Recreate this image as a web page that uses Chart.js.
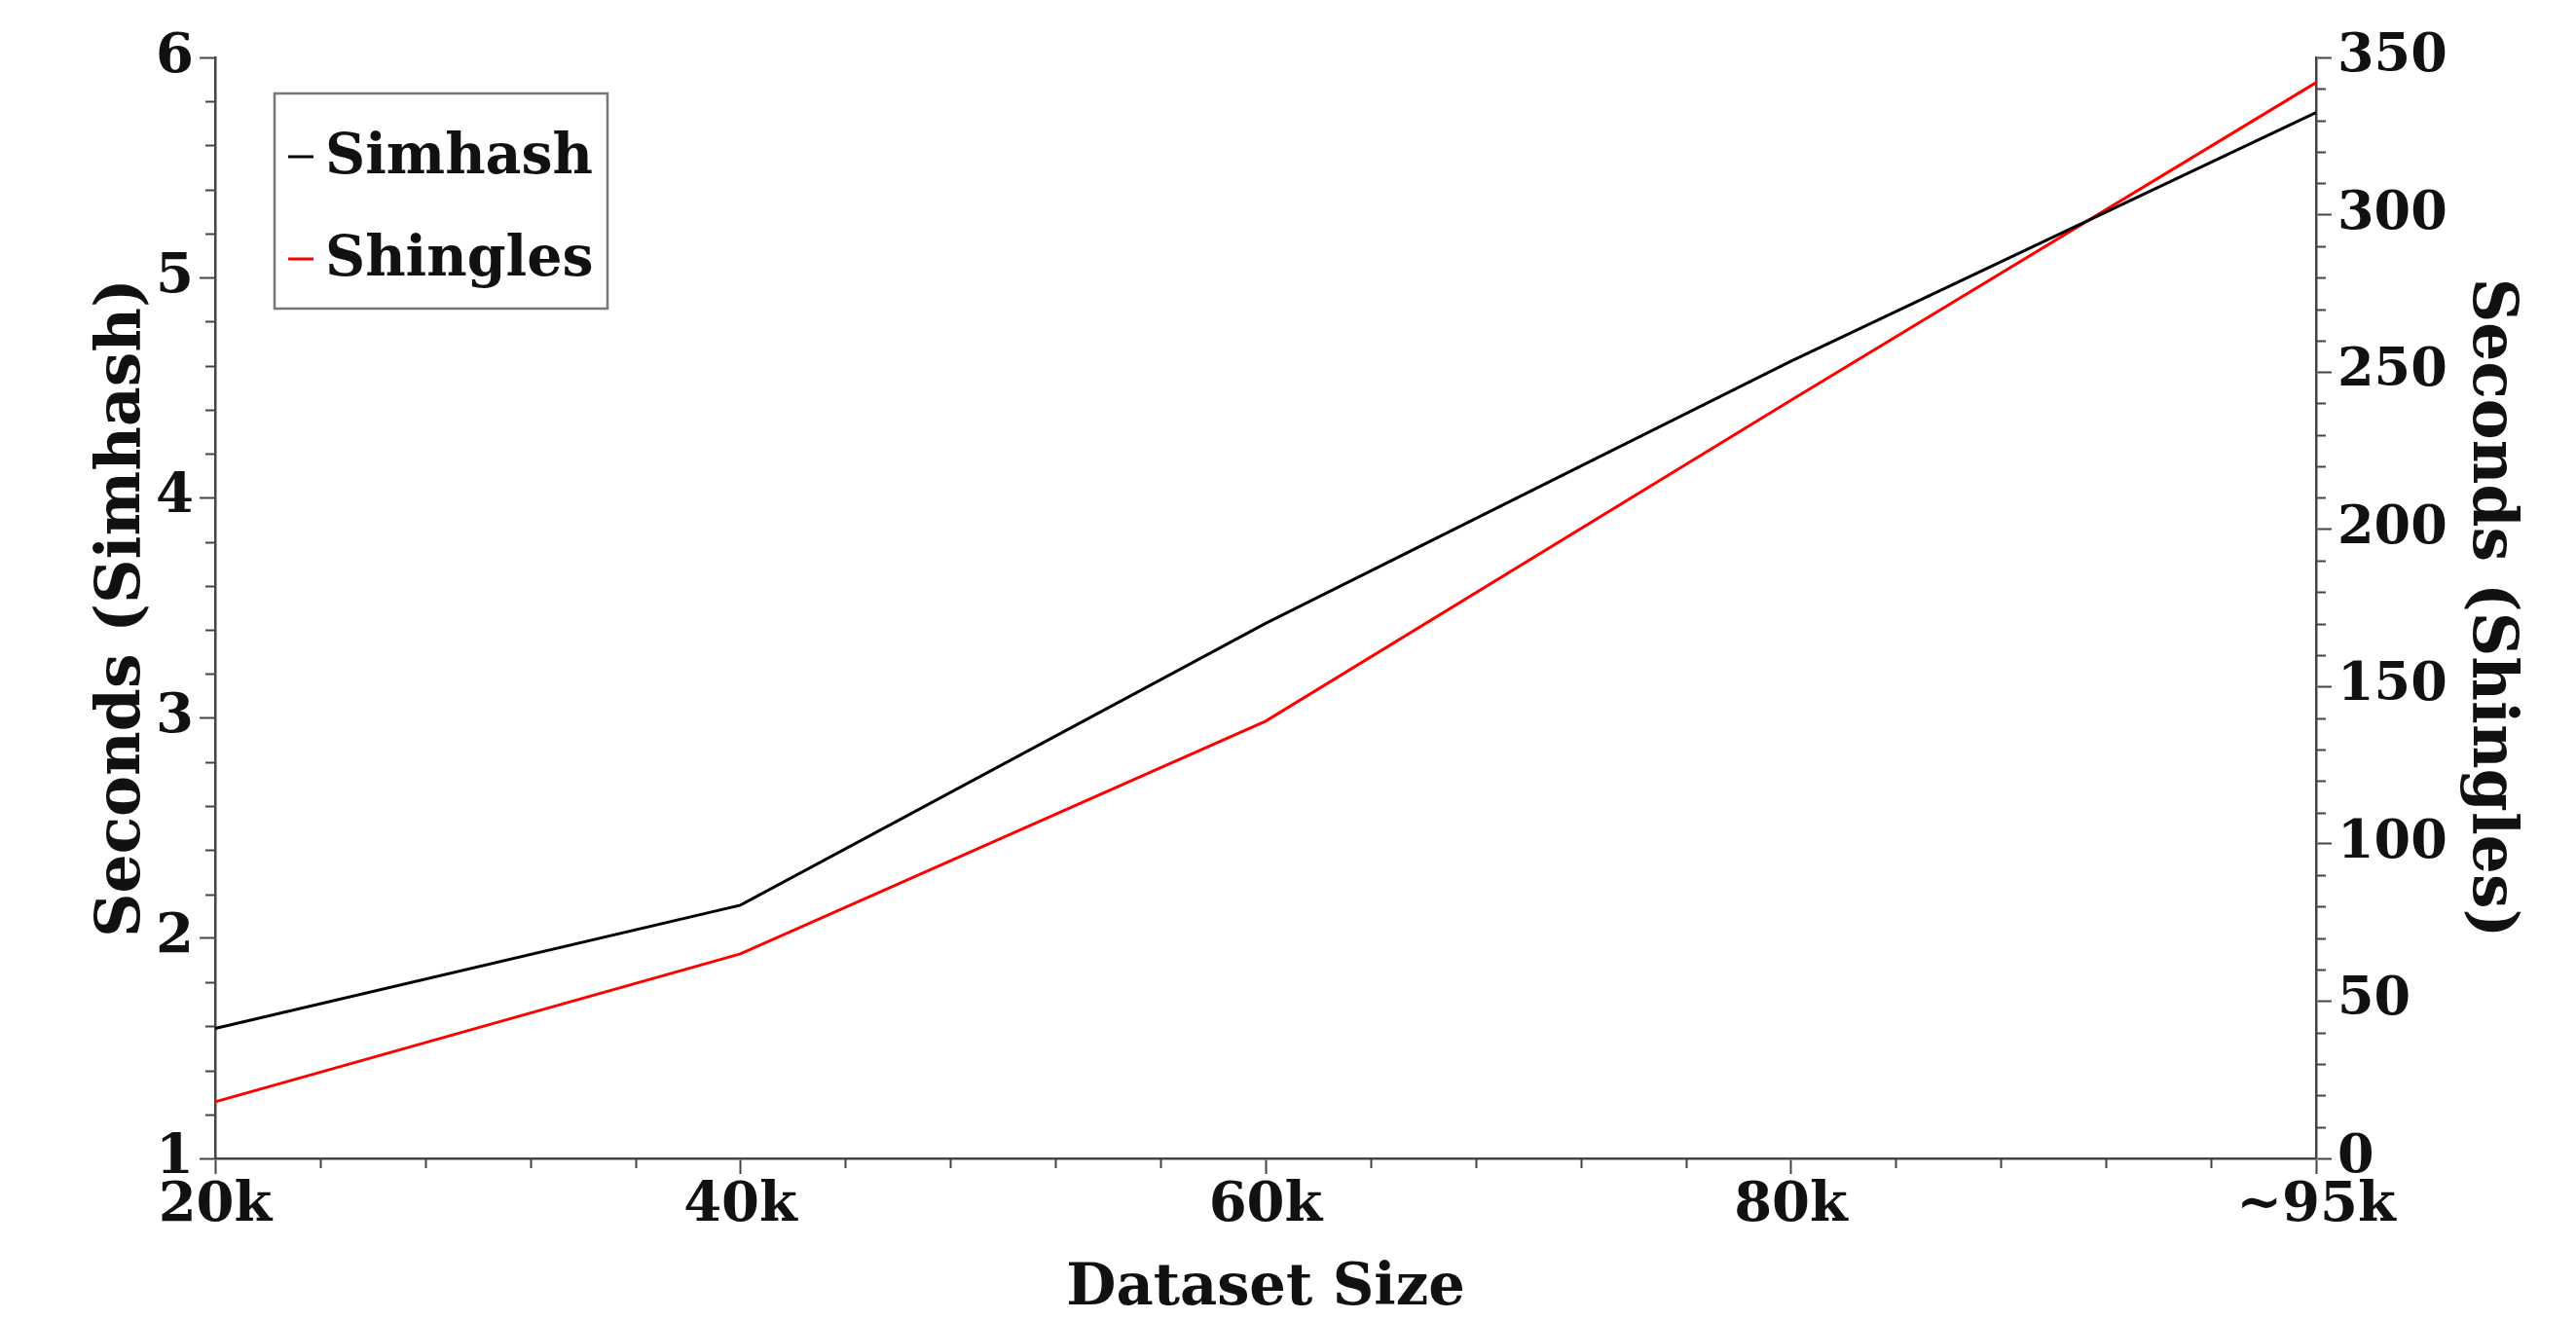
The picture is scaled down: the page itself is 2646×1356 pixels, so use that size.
<!DOCTYPE html>
<html><head><meta charset="utf-8">
<script src="https://cdn.jsdelivr.net/npm/chart.js@4.4.0/dist/chart.umd.min.js"></script>
<style>html,body{margin:0;padding:0;background:#fff;} #wrap{width:2646px;height:1356px;}</style>
</head><body><div id="wrap"><canvas id="c" width="2646" height="1356"></canvas></div>
<script>
const categories = ['20k', '40k', '60k', '80k', '~95k'];
const simhashSeconds = [1.59, 2.15, 3.43, 4.62, 5.75];
const shinglesSeconds = [18, 65, 139, 241, 342];
const seriesLabels = ['Simhash', 'Shingles'];
const seriesColors = ['#000000', '#ff0000'];
const leftRange = [1, 6];
const rightRange = [0, 350];

const FONT = "'DejaVu Serif', serif";
const AXIS_COLOR = '#444';

const minorTicks = {
  id: 'minorTicks',
  afterDraw(chart) {
    const ctx = chart.ctx;
    const x = chart.scales.x, yl = chart.scales.y, yr = chart.scales.y2;
    ctx.save();
    ctx.strokeStyle = AXIS_COLOR;
    ctx.lineWidth = 2;
    ctx.beginPath();
    const len = 10;
    for (let i = 0; i < categories.length - 1; i++) {
      for (let k = 1; k < 5; k++) {
        const px = Math.round(x.getPixelForValue(i + k / 5)) + 0.5;
        ctx.moveTo(px, x.top);
        ctx.lineTo(px, x.top + len);
      }
    }
    for (let i = 0; i <= (leftRange[1] - leftRange[0]) * 5; i++) {
      if (i % 5 === 0) continue;
      const py = Math.round(yl.getPixelForValue(leftRange[0] + i / 5)) + 0.5;
      ctx.moveTo(yl.right, py);
      ctx.lineTo(yl.right - len, py);
    }
    for (let v = rightRange[0]; v <= rightRange[1]; v += 10) {
      if (v % 50 === 0) continue;
      const py = Math.round(yr.getPixelForValue(v)) + 0.5;
      ctx.moveTo(yr.left, py);
      ctx.lineTo(yr.left + len, py);
    }
    ctx.stroke();
    ctx.restore();
  }
};

const boxLegend = {
  id: 'boxLegend',
  afterDraw(chart) {
    const ctx = chart.ctx;
    const ca = chart.chartArea;
    const left = ca.left + 61, top = ca.top + 37, w = 342, h = 221;
    ctx.save();
    ctx.fillStyle = '#fff';
    ctx.fillRect(left, top, w, h);
    ctx.strokeStyle = '#777';
    ctx.lineWidth = 2.5;
    ctx.strokeRect(left, top, w, h);
    ctx.font = 'bold 57px ' + FONT;
    ctx.textBaseline = 'middle';
    chart.data.datasets.forEach((ds, i) => {
      const cy = top + 65 + i * 105;
      ctx.strokeStyle = ds.borderColor;
      ctx.lineWidth = 3;
      ctx.beginPath();
      ctx.moveTo(left + 14, cy);
      ctx.lineTo(left + 40, cy);
      ctx.stroke();
      ctx.fillStyle = '#111';
      ctx.fillText(ds.label, left + 52, cy + 2);
    });
    ctx.restore();
  }
};

new Chart(document.getElementById('c'), {
  type: 'line',
  data: {
    labels: categories,
    datasets: [
      { label: seriesLabels[0], data: simhashSeconds, yAxisID: 'y', borderColor: seriesColors[0], borderWidth: 3, pointRadius: 0, tension: 0, fill: false },
      { label: seriesLabels[1], data: shinglesSeconds, yAxisID: 'y2', borderColor: seriesColors[1], borderWidth: 3, pointRadius: 0, tension: 0, fill: false }
    ]
  },
  options: {
    responsive: false,
    animation: false,
    devicePixelRatio: 1,
    layout: { padding: { top: 59, left: 0, right: 0, bottom: 0 } },
    plugins: { legend: { display: false }, tooltip: { enabled: false } },
    scales: {
      x: {
        type: 'category',
        offset: false,
        grid: { display: true, drawOnChartArea: false, drawTicks: true, tickLength: 16, tickColor: AXIS_COLOR, tickWidth: 2 },
        border: { color: AXIS_COLOR, width: 2.5 },
        ticks: { color: '#111', font: { family: FONT, size: 56, weight: 'bold' }, padding: 0, maxRotation: 0, autoSkip: false },
        title: { display: true, text: 'Dataset Size', color: '#111', font: { family: FONT, size: 59, weight: 'bold', lineHeight: 1 }, padding: { top: 0, bottom: 2 } },
        afterFit(s) { s.height = 166; }
      },
      y: {
        position: 'left',
        min: leftRange[0], max: leftRange[1],
        ticks: { stepSize: 1, color: '#111', font: { family: FONT, size: 56, weight: 'bold' }, padding: 6 },
        grid: { display: true, drawOnChartArea: false, tickLength: 16, tickColor: AXIS_COLOR, tickWidth: 2 },
        border: { color: AXIS_COLOR, width: 2.5 },
        title: { display: true, text: 'Seconds (Simhash)', color: '#111', font: { family: FONT, size: 63, weight: 'bold', lineHeight: 1 }, padding: { top: 95, bottom: 0 } },
        afterFit(s) { s.width = 221; }
      },
      y2: {
        position: 'right',
        min: rightRange[0], max: rightRange[1],
        ticks: { stepSize: 50, color: '#111', font: { family: FONT, size: 54, weight: 'bold' }, padding: 6 },
        grid: { display: true, drawOnChartArea: false, tickLength: 16, tickColor: AXIS_COLOR, tickWidth: 2 },
        border: { color: AXIS_COLOR, width: 2.5 },
        title: { display: true, text: 'Seconds (Shingles)', color: '#111', font: { family: FONT, size: 63, weight: 'bold', lineHeight: 1 }, padding: { top: 57, bottom: 0 } },
        afterFit(s) { s.width = 267; }
      }
    }
  },
  plugins: [minorTicks, boxLegend]
});
</script></body></html>
